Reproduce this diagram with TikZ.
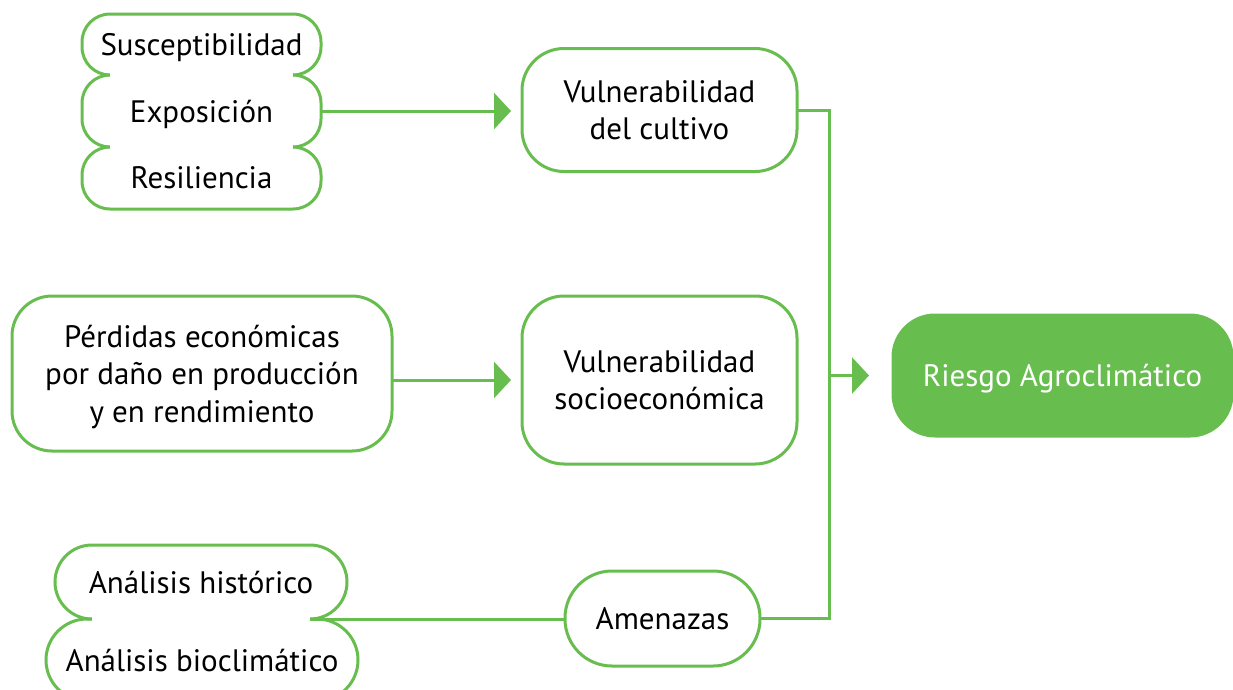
\documentclass[tikz,border=0pt]{standalone}
\usepackage{fontspec}
\setmainfont{PT Sans}
\usetikzlibrary{arrows.meta}
\definecolor{gr}{RGB}{104,189,79}
\begin{document}
\begin{tikzpicture}[x=1pt,y=-1pt,
  box/.style={draw=gr, line width=3pt, inner sep=0pt, outer sep=0pt, align=center,
    text depth=0pt, font=\fontsize{31}{37.5}\selectfont, text=black},
  conn/.style={draw=gr, line width=3pt},
  arr/.style={conn, -{Triangle[length=17pt,width=36pt]}},
  seam/.style={draw=white, line width=5pt}
]
\useasboundingbox (0,0) rectangle (1233,689);
\clip (0,0) rectangle (1233,689);

% top-left stacked group
\node[box, minimum width=239pt, minimum height=61pt, rounded corners=28pt] (s1) at (201.5,44.5) {Susceptibilidad};
\node[box, minimum width=239pt, minimum height=72pt, rounded corners=28pt] (s2) at (201.5,111) {Exposición};
\node[box, minimum width=239pt, minimum height=62pt, rounded corners=28pt] (s3) at (201.5,178) {Resiliencia};
\draw[seam] ([xshift=28pt]s1.south west) -- ([xshift=-28pt]s1.south east);
\draw[seam] ([xshift=28pt]s2.south west) -- ([xshift=-28pt]s2.south east);

% bottom-left stacked group
\node[box, minimum width=292pt, minimum height=74pt, rounded corners=37pt] (h1) at (201,582) {Análisis histórico};
\node[box, minimum width=312pt, minimum height=82pt, rounded corners=41pt] (h2) at (202,660) {Análisis bioclimático};
\draw[seam] ([xshift=37pt]h1.south west) -- ([xshift=-37pt]h1.south east);
\coordinate (hs) at ([xshift=-37pt]h1.south east);

% other boxes
\node[box, minimum width=380pt, minimum height=155pt, rounded corners=40pt] (perd) at (202,373.5)
  {Pérdidas económicas\\por daño en producción\\y en rendimiento};
\node[box, minimum width=275pt, minimum height=123pt, rounded corners=42pt] (cult) at (659.5,110)
  {Vulnerabilidad\\del cultivo};
\node[box, minimum width=275pt, minimum height=168pt, rounded corners=42pt] (socio) at (659.5,380)
  {Vulnerabilidad\\socioeconómica};
\node[box, minimum width=195pt, minimum height=95pt, rounded corners=47pt] (amen) at (662.5,618.5) {Amenazas};
\node[box, fill=gr, text=white, minimum width=339pt, minimum height=121pt, rounded corners=42pt] (riesgo)
  at (1062.5,375.5) {Riesgo Agroclimático};

% connectors
\coordinate (jx) at (829,0);
\draw[arr, shorten >=11pt] (s2.east) -- (s2.east -| cult.west);
\draw[arr, shorten >=11pt] (perd.east |- socio.west) -- (socio.west);
\draw[conn] (hs) -- (hs -| amen.west);
\draw[conn] (cult.east) -| (jx |- amen.east) -- (amen.east);
\draw[arr, shorten >=24pt] (jx |- riesgo.west) -- (riesgo.west);
\end{tikzpicture}
\end{document}
